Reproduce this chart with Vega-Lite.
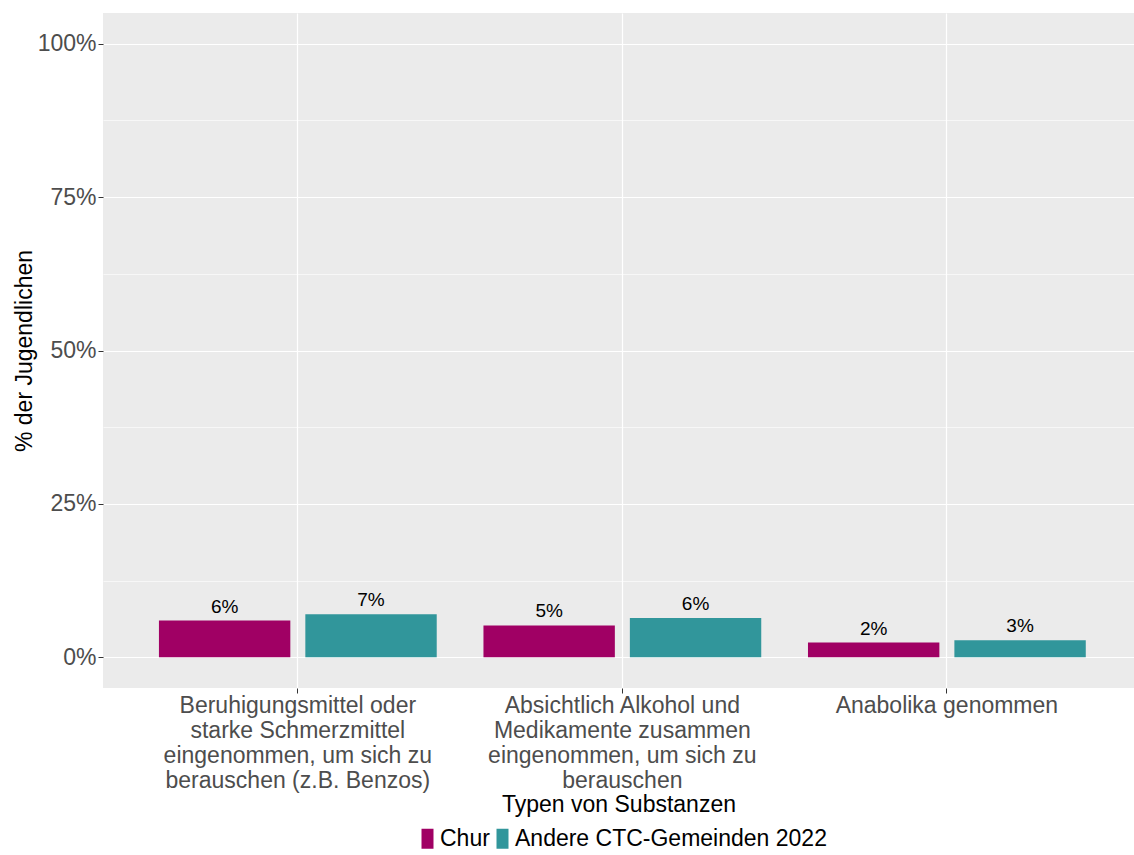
{
  "$schema": "https://vega.github.io/schema/vega-lite/v6.json",
  "width": 1031,
  "height": 675,
  "autosize": {"type": "none"},
  "padding": {"left": 103, "top": 13, "right": 0, "bottom": 167},
  "background": "white",
  "config": {
    "view": {"fill": "#EBEBEB", "stroke": null},
    "font": "Liberation Sans"
  },
  "data": {
    "values": [
      {"kategorie": "Beruhigungsmittel oder\nstarke Schmerzmittel\neingenommen, um sich zu\nberauschen (z.B. Benzos)", "gruppe": "Chur", "wert": 0.060},
      {"kategorie": "Beruhigungsmittel oder\nstarke Schmerzmittel\neingenommen, um sich zu\nberauschen (z.B. Benzos)", "gruppe": "Andere CTC-Gemeinden 2022", "wert": 0.070},
      {"kategorie": "Absichtlich Alkohol und\nMedikamente zusammen\neingenommen, um sich zu\nberauschen", "gruppe": "Chur", "wert": 0.052},
      {"kategorie": "Absichtlich Alkohol und\nMedikamente zusammen\neingenommen, um sich zu\nberauschen", "gruppe": "Andere CTC-Gemeinden 2022", "wert": 0.064},
      {"kategorie": "Anabolika genommen", "gruppe": "Chur", "wert": 0.024},
      {"kategorie": "Anabolika genommen", "gruppe": "Andere CTC-Gemeinden 2022", "wert": 0.028}
    ]
  },
  "encoding": {
    "x": {
      "field": "kategorie",
      "type": "nominal",
      "sort": null,
      "scale": {"paddingInner": 0.144, "paddingOuter": 0.1605, "align": 0.537},
      "axis": {
        "title": "Typen von Substanzen",
        "labelAngle": 0,
        "labelExpr": "split(datum.label, '\\n')",
        "labelFontSize": 23,
        "labelColor": "#4D4D4D",
        "labelLineHeight": 25.3,
        "labelPadding": 1,
        "labelLimit": 0,
        "labelOverlap": false,
        "labelBound": false,
        "labelBaseline": "top",
        "tickSize": 5,
        "tickColor": "#333333",
        "domain": false,
        "grid": true,
        "gridColor": "white",
        "gridWidth": 1.2,
        "bandPosition": 0.5,
        "titleFontSize": 23,
        "titleColor": "black",
        "titleFontWeight": "normal",
        "titlePadding": 1
      }
    },
    "xOffset": {
      "field": "gruppe",
      "type": "nominal",
      "sort": ["Chur", "Andere CTC-Gemeinden 2022"],
      "scale": {"paddingInner": 0.1025, "paddingOuter": 0}
    },
    "y": {
      "field": "wert",
      "type": "quantitative",
      "scale": {"domain": [-0.05, 1.05], "nice": false, "zero": false},
      "axis": {
        "title": "% der Jugendlichen",
        "values": [0, 0.125, 0.25, 0.375, 0.5, 0.625, 0.75, 0.875, 1],
        "labelExpr": "(datum.value*100) % 25 == 0 ? format(datum.value, '.0%') : ''",
        "labelFontSize": 23,
        "labelColor": "#4D4D4D",
        "labelPadding": 2,
        "tickSize": 5,
        "tickColor": "#333333",
        "tickOpacity": {"condition": {"test": "(datum.value*100) % 25 == 0", "value": 1}, "value": 0},
        "domain": false,
        "grid": true,
        "gridColor": "white",
        "gridWidth": {"condition": {"test": "(datum.value*100) % 25 == 0", "value": 1.2}, "value": 0.6},
        "titleFontSize": 23,
        "titleColor": "black",
        "titleFontWeight": "normal",
        "titlePadding": 1
      }
    },
    "color": {
      "field": "gruppe",
      "type": "nominal",
      "scale": {"domain": ["Chur", "Andere CTC-Gemeinden 2022"], "range": ["#A00064", "#31969B"]},
      "legend": {
        "title": null,
        "orient": "none",
        "legendX": 313,
        "legendY": 814,
        "direction": "horizontal",
        "padding": 0,
        "symbolType": "M-0.6,-1H0.6V1H-0.6Z",
        "symbolSize": 400,
        "symbolStrokeWidth": 0,
        "symbolOpacity": 1,
        "labelFontSize": 23,
        "labelColor": "black",
        "labelOffset": 1,
        "columnPadding": 1,
        "labelLimit": 0
      }
    }
  },
  "layer": [
    {"mark": {"type": "bar", "opacity": 1}},
    {
      "mark": {"type": "text", "baseline": "bottom", "dy": -4, "fontSize": 19, "color": "black"},
      "encoding": {
        "text": {"field": "wert", "type": "quantitative", "format": ".0%"},
        "color": {"value": "black"}
      }
    }
  ]
}
